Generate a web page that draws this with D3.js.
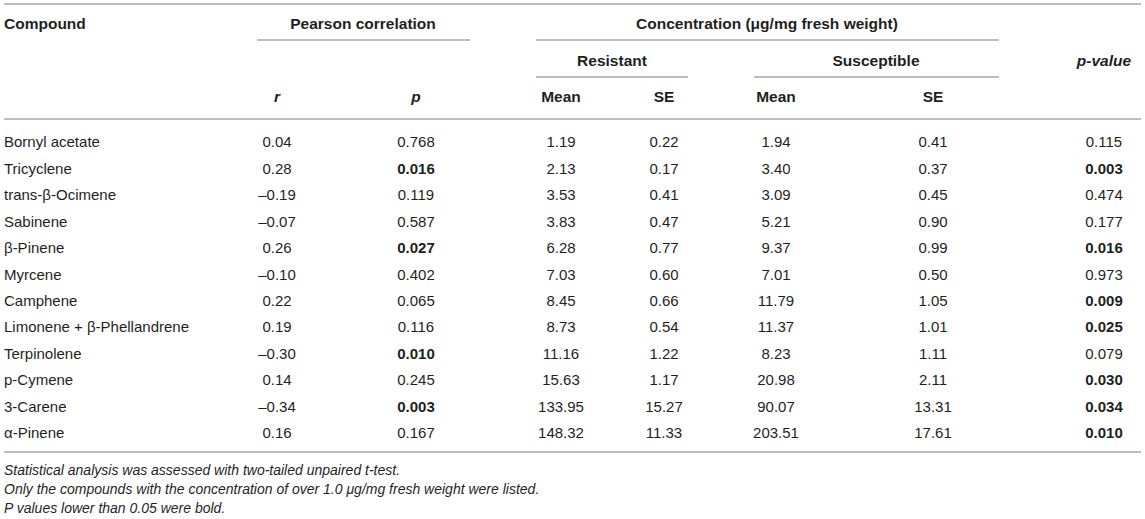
<!DOCTYPE html>
<html>
<head>
<meta charset="utf-8">
<script src="https://cdn.jsdelivr.net/npm/d3@7"></script>
<style>
  body { margin: 0; background: #fff; }
  svg text { font-family: "Liberation Sans", Arial, Helvetica, sans-serif; fill: #1f1f1f; }
</style>
</head>
<body>
<div id="chart"></div>
<script>
// table values
var compounds = ["Bornyl acetate", "Tricyclene", "trans-\u03b2-Ocimene", "Sabinene", "\u03b2-Pinene", "Myrcene",
    "Camphene", "Limonene + \u03b2-Phellandrene", "Terpinolene", "p-Cymene", "3-Carene", "\u03b1-Pinene"];
var rVals = [0.04, 0.28, -0.19, -0.07, 0.26, -0.10, 0.22, 0.19, -0.30, 0.14, -0.34, 0.16];
var pVals = [0.768, 0.016, 0.119, 0.587, 0.027, 0.402, 0.065, 0.116, 0.010, 0.245, 0.003, 0.167];
var resMean = [1.19, 2.13, 3.53, 3.83, 6.28, 7.03, 8.45, 8.73, 11.16, 15.63, 133.95, 148.32];
var resSE = [0.22, 0.17, 0.41, 0.47, 0.77, 0.60, 0.66, 0.54, 1.22, 1.17, 15.27, 11.33];
var susMean = [1.94, 3.40, 3.09, 5.21, 9.37, 7.01, 11.79, 11.37, 8.23, 20.98, 90.07, 203.51];
var susSE = [0.41, 0.37, 0.45, 0.90, 0.99, 0.50, 1.05, 1.01, 1.11, 2.11, 13.31, 17.61];
var pValue = [0.115, 0.003, 0.474, 0.177, 0.016, 0.973, 0.009, 0.025, 0.079, 0.030, 0.034, 0.010];

var footnotes = ["Statistical analysis was assessed with two-tailed unpaired t-test.",
    "Only the compounds with the concentration of over 1.0 \u03bcg/mg fresh weight were listed.",
    "P values lower than 0.05 were bold."];

var W = 1145, H = 519;
var svg = d3.select("#chart").append("svg").attr("width", W).attr("height", H);

// column centres
var colX = {r: 277, p: 416, rm: 561, rse: 664, sm: 776, sse: 933, pv: 1104};

var y = d3.scalePoint().domain(compounds).range([142, 433]);

function fmt(v, d) {
    return (v < 0 ? "\u2013" : "") + Math.abs(v).toFixed(d);
}

function rule(x1, x2, yy) {
    svg.append("line").attr("x1", x1).attr("x2", x2).attr("y1", yy).attr("y2", yy)
        .attr("stroke", "#bdbdbd").attr("stroke-width", 2);
}

function label(txt, x, yy, opts) {
    opts = opts || {};
    return svg.append("text").attr("x", x).attr("y", yy).attr("dy", "0.35em")
        .attr("text-anchor", opts.anchor || "middle")
        .attr("font-size", opts.size || 15.5)
        .attr("font-weight", opts.bold ? "bold" : null)
        .attr("font-style", opts.italic ? "italic" : null)
        .text(txt);
}

// header rules
rule(4, 1141, 4);
rule(257, 470, 40);
rule(536, 999, 40);
rule(536, 688, 77);
rule(754, 999, 77);
rule(4, 1141, 119);
rule(4, 1141, 452);

// header text
label("Compound", 4, 24, {anchor: "start", bold: true});
label("Pearson correlation", 363, 24, {bold: true});
label("Concentration (\u03bcg/mg fresh weight)", 767, 24, {bold: true});
label("Resistant", 612, 61, {bold: true});
label("Susceptible", 876, 61, {bold: true});
label("p-value", colX.pv, 61, {bold: true, italic: true});
label("r", colX.r, 97, {bold: true, italic: true});
label("p", colX.p, 97, {bold: true, italic: true});
label("Mean", colX.rm, 97, {bold: true});
label("SE", colX.rse, 97, {bold: true});
label("Mean", colX.sm, 97, {bold: true});
label("SE", colX.sse, 97, {bold: true});

// body rows
var rows = svg.append("g").selectAll("g").data(compounds).join("g")
    .attr("transform", function (d) { return "translate(0," + y(d) + ")"; });

rows.append("text").attr("x", 4).attr("dy", "0.35em").attr("font-size", 15).text(function (d) { return d; });

var cells = [
    {key: "r", vals: rVals, dec: 2, bold: false},
    {key: "p", vals: pVals, dec: 3, bold: true},
    {key: "rm", vals: resMean, dec: 2, bold: false},
    {key: "rse", vals: resSE, dec: 2, bold: false},
    {key: "sm", vals: susMean, dec: 2, bold: false},
    {key: "sse", vals: susSE, dec: 2, bold: false},
    {key: "pv", vals: pValue, dec: 3, bold: true}
];

cells.forEach(function (c) {
    rows.append("text")
        .attr("x", colX[c.key]).attr("dy", "0.35em")
        .attr("text-anchor", "middle").attr("font-size", 15)
        .attr("font-weight", function (d, i) { return c.bold && c.vals[i] < 0.05 ? "bold" : null; })
        .text(function (d, i) { return fmt(c.vals[i], c.dec); });
});

// footnotes
svg.append("g").selectAll("text").data(footnotes).join("text")
    .attr("x", 4).attr("y", function (d, i) { return 470 + i * 19; }).attr("dy", "0.35em")
    .attr("font-size", 14).attr("font-style", "italic")
    .text(function (d) { return d; });
</script>
</body>
</html>
